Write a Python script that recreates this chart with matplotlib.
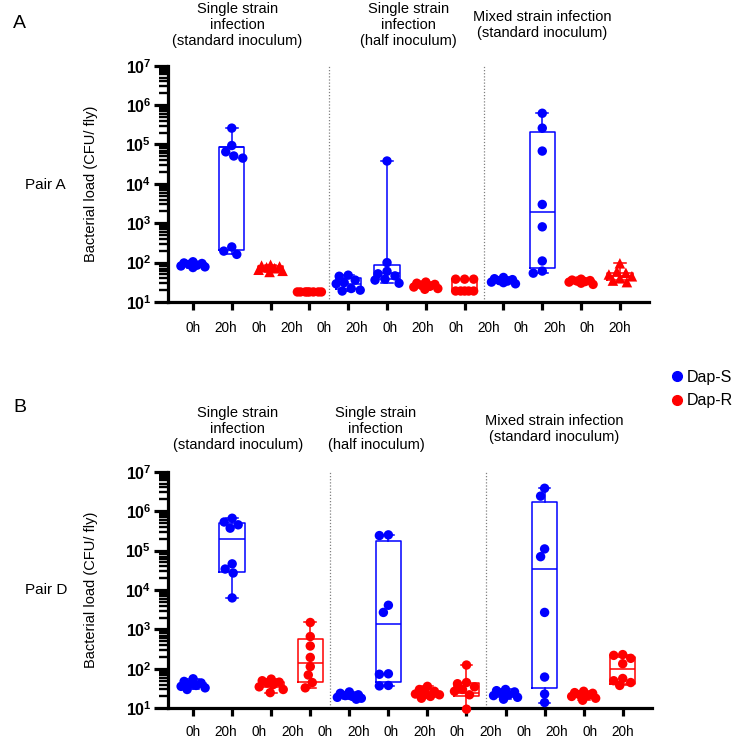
import numpy as np
import matplotlib
matplotlib.use("Agg")
import matplotlib.pyplot as plt
from matplotlib.lines import Line2D
from matplotlib.ticker import LogLocator, NullFormatter

plt.rcParams['font.family'] = ['Liberation Sans', 'DejaVu Sans']
plt.rcParams['mathtext.fontset'] = 'custom'
plt.rcParams['mathtext.rm'] = 'Liberation Sans'
plt.rcParams['mathtext.bf'] = 'Liberation Sans:bold'

# ---- data (CFU per fly) ----
time_labels = ['0h', '20h'] * 7
strains = ['Dap-S', 'Dap-S', 'Dap-R', 'Dap-R'] * 3
group_titles = ['Single strain\ninfection\n(standard inoculum)',
                'Single strain\ninfection\n(half inoculum)',
                'Mixed strain infection\n(standard inoculum)']
pair_names = ['Pair A', 'Pair D']
panel_letters = ['A', 'B']

pair_a_values = [
    [105, 98, 95, 90, 86, 82, 78, 75],
    [2.6e5, 9.4e4, 6.5e4, 5.1e4, 4.5e4, 250, 196, 162],
    [88, 84, 80, 76, 72, 66, 62, 58],
    [18, 18, 18, 18, 18, 18, 18, 18],
    [48, 45, 36, 31, 29, 22, 20, 19],
    [3.8e4, 100, 60, 52, 46, 38, 36, 30],
    [32, 30, 28, 27, 25, 24, 22, 21],
    [38, 38, 38, 19, 19, 19, 19, 19],
    [42, 39, 37, 35, 34, 32, 31, 29],
    [6.2e5, 2.6e5, 6.8e4, 3000, 810, 110, 61, 54],
    [38, 36, 35, 34, 33, 32, 30, 28],
    [96, 60, 55, 50, 45, 40, 35, 32],
]
pair_a_q1 = [80, 215, 60, 18, 22, 38, 23, 19, 31, 75, 31, 36]
pair_a_med = [88, 8.5e4, 70, 18, 29, 55, 25, 19, 34, 1900, 33, 45]
pair_a_q3 = [97, 8.5e4, 80, 18, 40, 85, 28, 38, 37, 2.1e5, 36, 55]

pair_d_values = [
    [56, 48, 44, 41, 38, 36, 33, 30],
    [6.6e5, 5.3e5, 4.5e5, 3.7e5, 4.6e4, 3.4e4, 2.7e4, 6.3e3],
    [55, 50, 46, 44, 40, 35, 30, 25],
    [1500, 660, 380, 195, 114, 70, 45, 33],
    [26, 24, 22, 21, 20, 19, 18, 17],
    [2.5e5, 2.4e5, 4100, 2700, 75, 73, 38, 37],
    [36, 30, 27, 25, 23, 22, 20, 18],
    [125, 45, 42, 35, 30, 27, 22, 9.5],
    [30, 28, 26, 24, 22, 21, 19, 17],
    [3.8e6, 2.4e6, 1.1e5, 7e4, 2700, 62, 23, 14],
    [27, 25, 24, 22, 21, 20, 18, 16],
    [230, 220, 185, 135, 57, 50, 45, 38],
]
pair_d_q1 = [34, 2.9e4, 35, 47, 18, 47, 19, 20, 19, 33, 19, 41]
pair_d_med = [39, 2.0e5, 40, 139, 20, 1380, 22, 25, 22, 3.5e4, 21, 98]
pair_d_q3 = [45, 5.1e5, 46, 565, 23, 1.7e5, 25, 43, 26, 1.7e6, 24, 205]

colors = {'Dap-S': '#0000ff', 'Dap-R': '#ff0000'}
pair_a_markers = ['o', 'o', '^', 'o', 'o', 'o', 'o', 'o', 'o', 'o', 'o', '^']
pair_d_markers = ['o'] * 12


def swarm_x(ax, x0, vals, mind=8.5, cap=12):
    # beeswarm in pixel space, kept within +-cap px so dense groups overlap like Prism
    pts = ax.transData.transform(np.column_stack([np.full(len(vals), x0), vals]))
    ys = pts[:, 1]
    cands = sorted(range(-cap, cap + 1), key=lambda d: (abs(d), d))
    placed = []
    offs = np.zeros(len(vals))
    for i in np.argsort(-ys):
        best, best_d = 0, -1
        for dx in cands:
            dmin = min([np.hypot(dx - px, ys[i] - py) for px, py in placed] or [99])
            if dmin >= mind:
                best = dx
                break
            if dmin > best_d + 0.01:
                best, best_d = dx, dmin
        placed.append((best, ys[i]))
        offs[i] = best
    back = ax.transData.inverted().transform(np.column_stack([pts[:, 0] + offs, ys]))
    return back[:, 0]


def draw_panel(ax, values, q1, med, q3, markers, title_x, title_y, lab_y):
    ax.set_yscale('log')
    ax.set_ylim(10, 1e7)
    ax.set_xlim(-0.643, 11.75)
    for s in ['top', 'right']:
        ax.spines[s].set_visible(False)
    for s in ['left', 'bottom']:
        ax.spines[s].set_linewidth(2.3)
        ax.spines[s].set_capstyle('projecting')

    ax.yaxis.set_minor_locator(LogLocator(base=10, subs=np.arange(2, 10), numticks=10))
    ax.yaxis.set_minor_formatter(NullFormatter())
    ax.set_yticks([10 ** k for k in range(1, 8)])
    ax.set_yticklabels([r'$\mathbf{10^{%d}}$' % k for k in range(1, 8)])
    ax.tick_params(axis='y', which='major', length=10, width=2.3, labelsize=11.5, pad=2)
    ax.tick_params(axis='y', which='minor', length=6.5, width=1.7)
    ax.set_xticks(range(12))
    ax.set_xticklabels([''] * 12)
    ax.tick_params(axis='x', length=6, width=2.3)

    # Prism spreads the 14 labels evenly between first and last tick
    for xl, lab in zip(np.linspace(0, 11, len(time_labels)), time_labels):
        ax.text(xl, lab_y, lab, transform=ax.get_xaxis_transform(),
                ha='center', va='center', fontsize=9.8)

    for xs in [3.5, 7.5]:
        ax.axvline(xs, color='#808080', ls=(0, (1, 1.5)), lw=0.9, zorder=1)

    for i, vals in enumerate(values):
        c = colors[strains[i]]
        stats = [dict(med=med[i], q1=q1[i], q3=q3[i],
                      whislo=min(vals), whishi=max(vals), fliers=[])]
        lp = dict(color=c, lw=1.1)
        ax.bxp(stats, positions=[i], widths=0.65, capwidths=0.3, showfliers=False,
               boxprops=lp, medianprops=lp, whiskerprops=lp, capprops=lp,
               manage_ticks=False, zorder=2)
        xj = swarm_x(ax, i, vals)
        ax.scatter(xj, vals, s=46 if markers[i] == 'o' else 58, marker=markers[i],
                   color=c, edgecolors='none', zorder=3, clip_on=False)

    ax.set_ylabel('Bacterial load (CFU/ fly)', fontsize=10.5)
    ax.yaxis.set_label_coords(-0.1455, 0.5)

    for tx, t in zip(title_x, group_titles):
        ax.text(tx, title_y, t, transform=ax.get_xaxis_transform(), ha='center',
                va='center', fontsize=10.5, linespacing=1.2)


fig = plt.figure(figsize=(7.35, 7.4), dpi=100)
ax_a = fig.add_axes([168 / 735, 438 / 740, 481 / 735, 236.3 / 740])
ax_b = fig.add_axes([168 / 735, 31.7 / 740, 484 / 735, 236.6 / 740])

draw_panel(ax_a, pair_a_values, pair_a_q1, pair_a_med, pair_a_q3, pair_a_markers,
           [1.14, 5.55, 9.0], 1.171, -0.11)
draw_panel(ax_b, pair_d_values, pair_d_q1, pair_d_med, pair_d_q3, pair_d_markers,
           [1.14, 4.68, 9.25], 1.18, -0.1)

fig.text(13 / 735, 1 - 23 / 740, panel_letters[0], fontsize=14, va='center', ha='left')
fig.text(13 / 735, 1 - 407 / 740, panel_letters[1], fontsize=14, va='center', ha='left')
fig.text(25 / 735, 1 - 185 / 740, pair_names[0], fontsize=11, va='center', ha='left')
fig.text(25 / 735, 1 - 590 / 740, pair_names[1], fontsize=11, va='center', ha='left')

handles = [Line2D([], [], ls='none', marker='o', markersize=7, color=colors[k]) for k in ['Dap-S', 'Dap-R']]
fig.legend(handles, ['Dap-S', 'Dap-R'], loc='center left', bbox_to_anchor=(672 / 735, 1 - 389 / 740),
           frameon=False, fontsize=11.5, handlelength=0.6, handletextpad=0.35, labelspacing=0.55,
           borderaxespad=0, borderpad=0)

fig.savefig('out.png', dpi=100)
